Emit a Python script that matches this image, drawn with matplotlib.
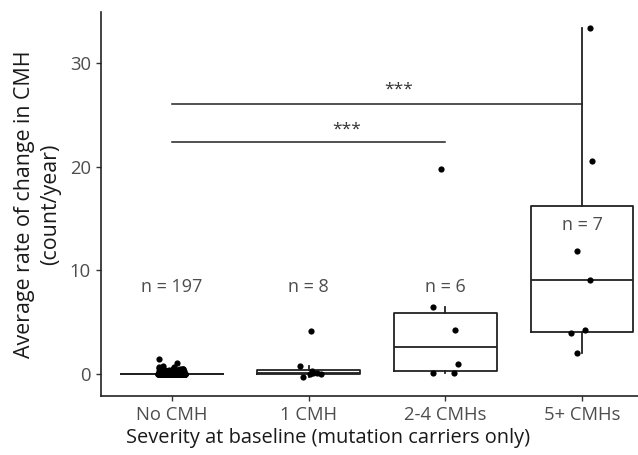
import matplotlib

matplotlib.use("Agg")
import matplotlib.pyplot as plt
import numpy as np

plt.rcParams["font.family"] = ["Open Sans", "DejaVu Sans"]

# --- data ------------------------------------------------------------------
categories = ["No CMH", "1 CMH", "2-4 CMHs", "5+ CMHs"]

no_cmh = [0.0] * 160 + [
    0.05, 0.08, 0.1, 0.12, 0.15, 0.18, 0.2, 0.22, 0.25, 0.28,
    0.3, 0.3, 0.32, 0.35, 0.35, 0.38, 0.4, 0.4, 0.42, 0.45,
    0.45, 0.48, 0.5, 0.5, 0.52, 0.55, 0.15, 0.25, 0.35, 0.2,
    0.3, 0.6, 0.65, 0.7, 0.8, 1.03, 1.5,
]
one_cmh = [-0.32, 0.0, 0.05, 0.07, 0.15, 0.3, 0.77, 4.17]
two_four_cmh = [0.07, 0.07, 0.99, 4.23, 6.48, 19.8]
five_plus_cmh = [1.99, 3.97, 4.23, 9.05, 11.87, 20.6, 33.37]

groups = [no_cmh, one_cmh, two_four_cmh, five_plus_cmh]
n_label_y = [8.4, 8.4, 8.4, 14.4]

# significance brackets: (from group, to group, line y, star x, star y)
sig_pairs = [(0, 3, 26.05, 1.66, 27.4), (0, 2, 22.4, 1.28, 23.6)]
sig_text = "***"

# --- figure ------------------------------------------------------------------
fig = plt.figure(figsize=(6.38, 4.55), dpi=100)
ax = fig.add_axes([0.158, 0.130, 0.842, 0.843])

positions = np.arange(len(categories))
line_kw = dict(color="#222222", linewidth=1.3)
ax.boxplot(
    groups,
    positions=positions,
    widths=0.75,
    whis=1.5,
    showfliers=False,
    showcaps=False,
    boxprops=line_kw,
    whiskerprops=line_kw,
    medianprops=line_kw,
)

# jittered points (seeded jitter on x only)
rng = np.random.default_rng(7)
for pos, vals in zip(positions, groups):
    vals = np.asarray(vals)
    xs = pos + rng.uniform(-0.1, 0.1, size=len(vals))
    ax.scatter(xs, vals, s=20, color="black", zorder=3, linewidths=0)

for pos, vals, ny in zip(positions, groups, n_label_y):
    ax.text(pos, ny, f"n = {len(vals)}", ha="center", va="center",
            fontsize=13, color="#4d4d4d")

for g0, g1, ly, sx, sy in sig_pairs:
    ax.plot([positions[g0], positions[g1]], [ly, ly], color="#222222",
            linewidth=1.1)
    ax.text(sx, sy, sig_text, ha="center", va="center", fontsize=12.5,
            color="#333333")

ax.set_xlim(-0.52, 3.41)
ax.set_ylim(-2.1, 34.9)
ax.set_xticks(positions)
ax.set_xticklabels(categories)
ax.set_yticks([0, 10, 20, 30])
ax.tick_params(labelsize=13.3, labelcolor="#4d4d4d", color="#333333",
               length=3.6, width=1)

ax.set_xlabel("Severity at baseline (mutation carriers only)", fontsize=14.4,
              color="#1a1a1a")
ax.xaxis.set_label_coords(0.423, -0.085)
ax.set_ylabel("Average rate of change in CMH\n(count/year)", fontsize=15.4,
              color="#1a1a1a", linespacing=1.35)
ax.yaxis.label.set_verticalalignment("center")
ax.yaxis.set_label_coords(-0.118, 0.5)

for side in ("top", "right"):
    ax.spines[side].set_visible(False)
for side in ("left", "bottom"):
    ax.spines[side].set_color("#222222")
    ax.spines[side].set_linewidth(1.2)

fig.savefig("out.png", dpi=100)
plt.close(fig)
